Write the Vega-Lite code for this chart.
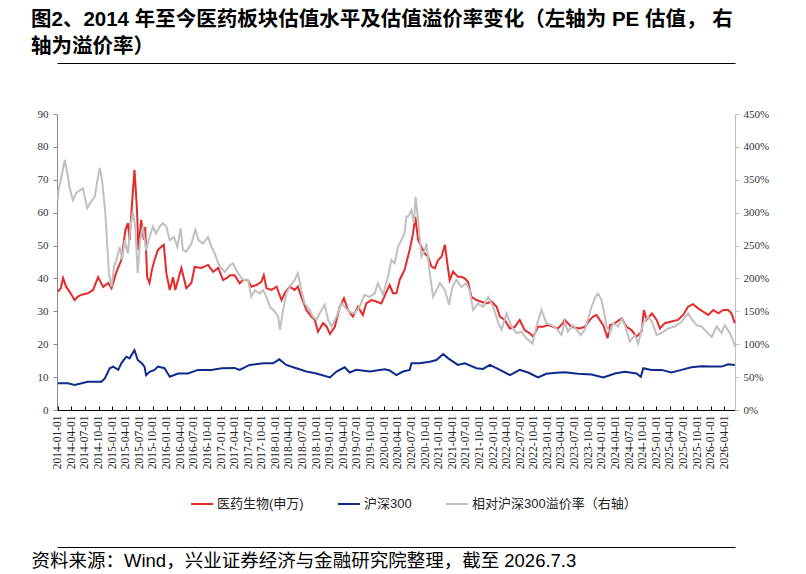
{
  "$schema": "https://vega.github.io/schema/vega-lite/v6.json",
  "width": 678,
  "height": 296,
  "autosize": "none",
  "padding": {"left": 57, "top": 114, "right": 71, "bottom": 164},
  "background": "#ffffff",
  "config": {
    "view": {"stroke": null},
    "font": "'Liberation Sans', 'Noto Sans CJK SC'",
    "axis": {"grid": false}
  },
  "title": {
    "text": ["图2、2014 年至今医药板块估值水平及估值溢价率变化（左轴为 PE 估值， 右", "轴为溢价率）"],
    "anchor": "start",
    "frame": "group",
    "dx": -26,
    "offset": 6,
    "font": "'Liberation Sans', 'Noto Sans CJK SC'",
    "fontSize": 20.5,
    "fontWeight": "bold",
    "lineHeight": 27,
    "color": "#000000"
  },
  "datasets": {
    "pe_yiyao": [
      {"d": "2014-01-01", "v": 36.0}, {"d": "2014-01-20", "v": 37.0}, {"d": "2014-02-05", "v": 40.1},
      {"d": "2014-02-25", "v": 37.5}, {"d": "2014-03-20", "v": 36.0}, {"d": "2014-04-23", "v": 33.4},
      {"d": "2014-05-15", "v": 34.5}, {"d": "2014-06-07", "v": 35.0}, {"d": "2014-07-21", "v": 35.5},
      {"d": "2014-08-25", "v": 36.5}, {"d": "2014-09-28", "v": 40.4}, {"d": "2014-11-01", "v": 37.4},
      {"d": "2014-12-05", "v": 38.6}, {"d": "2014-12-27", "v": 37.0}, {"d": "2015-01-29", "v": 42.0},
      {"d": "2015-03-03", "v": 45.6}, {"d": "2015-03-30", "v": 54.7}, {"d": "2015-04-16", "v": 56.8},
      {"d": "2015-04-27", "v": 51.7}, {"d": "2015-05-12", "v": 61.7}, {"d": "2015-05-30", "v": 73.0},
      {"d": "2015-06-15", "v": 61.7}, {"d": "2015-06-26", "v": 48.6}, {"d": "2015-07-14", "v": 57.8},
      {"d": "2015-08-01", "v": 51.7}, {"d": "2015-08-10", "v": 55.6}, {"d": "2015-08-23", "v": 40.4},
      {"d": "2015-09-08", "v": 38.6}, {"d": "2015-09-24", "v": 42.6}, {"d": "2015-10-12", "v": 45.6},
      {"d": "2015-11-03", "v": 48.6}, {"d": "2015-11-25", "v": 49.6}, {"d": "2015-12-13", "v": 50.2},
      {"d": "2015-12-30", "v": 41.6}, {"d": "2016-01-22", "v": 36.5}, {"d": "2016-02-13", "v": 40.4},
      {"d": "2016-02-28", "v": 36.5}, {"d": "2016-04-09", "v": 43.2}, {"d": "2016-05-12", "v": 37.0},
      {"d": "2016-06-15", "v": 38.6}, {"d": "2016-07-07", "v": 43.5}, {"d": "2016-08-21", "v": 43.2},
      {"d": "2016-10-05", "v": 44.1}, {"d": "2016-11-08", "v": 42.0}, {"d": "2016-12-12", "v": 43.2},
      {"d": "2017-01-14", "v": 39.5}, {"d": "2017-02-17", "v": 40.4}, {"d": "2017-02-28", "v": 41.0},
      {"d": "2017-04-01", "v": 41.0}, {"d": "2017-05-05", "v": 38.5}, {"d": "2017-05-27", "v": 39.5},
      {"d": "2017-06-30", "v": 39.5}, {"d": "2017-07-22", "v": 37.5}, {"d": "2017-08-25", "v": 38.0},
      {"d": "2017-09-28", "v": 39.0}, {"d": "2017-10-14", "v": 41.0}, {"d": "2017-11-01", "v": 37.0},
      {"d": "2017-12-05", "v": 36.5}, {"d": "2018-01-08", "v": 37.5}, {"d": "2018-02-10", "v": 33.4},
      {"d": "2018-03-03", "v": 35.5}, {"d": "2018-04-06", "v": 37.5}, {"d": "2018-05-09", "v": 36.5},
      {"d": "2018-05-31", "v": 37.5}, {"d": "2018-06-23", "v": 34.4}, {"d": "2018-07-27", "v": 30.4},
      {"d": "2018-08-29", "v": 28.4}, {"d": "2018-09-21", "v": 27.4}, {"d": "2018-10-13", "v": 23.8},
      {"d": "2018-11-16", "v": 26.4}, {"d": "2018-12-09", "v": 25.4}, {"d": "2019-01-01", "v": 23.1},
      {"d": "2019-02-03", "v": 25.3}, {"d": "2019-03-08", "v": 31.4}, {"d": "2019-04-05", "v": 34.0},
      {"d": "2019-05-02", "v": 30.4}, {"d": "2019-06-04", "v": 28.4}, {"d": "2019-07-08", "v": 31.4},
      {"d": "2019-08-10", "v": 28.9}, {"d": "2019-09-02", "v": 32.4}, {"d": "2019-10-07", "v": 33.4},
      {"d": "2019-11-08", "v": 33.0}, {"d": "2019-12-12", "v": 32.4}, {"d": "2020-01-16", "v": 36.0},
      {"d": "2020-02-06", "v": 38.0}, {"d": "2020-02-28", "v": 35.5}, {"d": "2020-03-22", "v": 35.5},
      {"d": "2020-04-14", "v": 39.7}, {"d": "2020-05-16", "v": 42.6}, {"d": "2020-06-20", "v": 48.8},
      {"d": "2020-07-12", "v": 53.7}, {"d": "2020-07-27", "v": 58.8}, {"d": "2020-08-15", "v": 51.7},
      {"d": "2020-09-06", "v": 49.6}, {"d": "2020-09-29", "v": 47.6}, {"d": "2020-10-21", "v": 46.6},
      {"d": "2020-11-13", "v": 43.6}, {"d": "2020-12-05", "v": 43.1}, {"d": "2020-12-27", "v": 45.6},
      {"d": "2021-01-19", "v": 46.6}, {"d": "2021-02-11", "v": 50.2}, {"d": "2021-03-05", "v": 42.6},
      {"d": "2021-03-15", "v": 39.5}, {"d": "2021-04-07", "v": 42.1}, {"d": "2021-05-09", "v": 40.5},
      {"d": "2021-06-01", "v": 40.5}, {"d": "2021-06-24", "v": 40.0}, {"d": "2021-07-16", "v": 39.0},
      {"d": "2021-08-08", "v": 34.4}, {"d": "2021-09-11", "v": 33.4}, {"d": "2021-10-14", "v": 32.9},
      {"d": "2021-11-17", "v": 32.4}, {"d": "2021-12-21", "v": 33.0}, {"d": "2022-01-24", "v": 31.4},
      {"d": "2022-02-15", "v": 28.4}, {"d": "2022-03-20", "v": 27.4}, {"d": "2022-04-23", "v": 24.8},
      {"d": "2022-05-26", "v": 25.3}, {"d": "2022-06-28", "v": 27.4}, {"d": "2022-07-31", "v": 24.3},
      {"d": "2022-09-04", "v": 23.3}, {"d": "2022-09-26", "v": 22.3}, {"d": "2022-10-29", "v": 25.3},
      {"d": "2022-12-01", "v": 25.3}, {"d": "2023-01-05", "v": 25.8}, {"d": "2023-02-07", "v": 25.3},
      {"d": "2023-03-12", "v": 24.8}, {"d": "2023-04-14", "v": 26.4}, {"d": "2023-04-26", "v": 27.4},
      {"d": "2023-06-09", "v": 25.3}, {"d": "2023-08-04", "v": 24.8}, {"d": "2023-09-08", "v": 25.3},
      {"d": "2023-10-12", "v": 27.4}, {"d": "2023-11-03", "v": 28.4}, {"d": "2023-11-25", "v": 28.9},
      {"d": "2023-12-17", "v": 27.4}, {"d": "2024-01-10", "v": 25.8}, {"d": "2024-02-08", "v": 21.8},
      {"d": "2024-02-24", "v": 25.8}, {"d": "2024-03-28", "v": 26.4}, {"d": "2024-05-12", "v": 27.9},
      {"d": "2024-06-14", "v": 25.3}, {"d": "2024-07-17", "v": 24.3}, {"d": "2024-08-20", "v": 22.3},
      {"d": "2024-09-23", "v": 23.8}, {"d": "2024-10-08", "v": 30.4}, {"d": "2024-10-26", "v": 27.4},
      {"d": "2024-12-02", "v": 29.4}, {"d": "2025-01-02", "v": 27.4}, {"d": "2025-01-24", "v": 24.8},
      {"d": "2025-02-26", "v": 26.4}, {"d": "2025-04-11", "v": 26.9}, {"d": "2025-05-25", "v": 27.4},
      {"d": "2025-06-29", "v": 28.9}, {"d": "2025-08-01", "v": 31.4}, {"d": "2025-09-03", "v": 32.2},
      {"d": "2025-10-07", "v": 30.9}, {"d": "2025-11-10", "v": 29.9}, {"d": "2025-12-14", "v": 28.9},
      {"d": "2026-01-17", "v": 30.4}, {"d": "2026-02-20", "v": 29.4}, {"d": "2026-03-25", "v": 30.4},
      {"d": "2026-04-27", "v": 30.4}, {"d": "2026-05-19", "v": 29.4}, {"d": "2026-06-11", "v": 26.4}
    ],
    "pe_hs300": [
      {"d": "2014-01-01", "v": 8.1}, {"d": "2014-03-10", "v": 8.1}, {"d": "2014-04-23", "v": 7.6},
      {"d": "2014-07-21", "v": 8.6}, {"d": "2014-10-20", "v": 8.6}, {"d": "2014-11-12", "v": 9.6},
      {"d": "2014-12-15", "v": 12.7}, {"d": "2015-01-07", "v": 13.2}, {"d": "2015-02-10", "v": 12.2},
      {"d": "2015-03-03", "v": 14.2}, {"d": "2015-04-05", "v": 16.2}, {"d": "2015-04-27", "v": 15.7},
      {"d": "2015-05-30", "v": 18.2}, {"d": "2015-06-21", "v": 15.2}, {"d": "2015-07-18", "v": 14.2},
      {"d": "2015-08-05", "v": 13.2}, {"d": "2015-08-16", "v": 10.6}, {"d": "2015-09-08", "v": 11.6},
      {"d": "2015-10-12", "v": 12.2}, {"d": "2015-11-03", "v": 13.2}, {"d": "2015-12-18", "v": 12.7},
      {"d": "2016-01-22", "v": 10.1}, {"d": "2016-03-17", "v": 11.1}, {"d": "2016-05-23", "v": 11.1},
      {"d": "2016-07-30", "v": 12.2}, {"d": "2016-10-28", "v": 12.2}, {"d": "2017-01-04", "v": 12.7},
      {"d": "2017-04-01", "v": 12.8}, {"d": "2017-05-05", "v": 12.2}, {"d": "2017-07-11", "v": 13.7},
      {"d": "2017-10-10", "v": 14.2}, {"d": "2017-12-16", "v": 14.2}, {"d": "2018-01-26", "v": 15.4},
      {"d": "2018-03-14", "v": 13.7}, {"d": "2018-05-20", "v": 12.7}, {"d": "2018-07-27", "v": 11.7},
      {"d": "2018-10-02", "v": 11.1}, {"d": "2019-01-01", "v": 9.9}, {"d": "2019-02-14", "v": 11.7},
      {"d": "2019-04-10", "v": 13.0}, {"d": "2019-05-13", "v": 11.4}, {"d": "2019-06-27", "v": 12.2},
      {"d": "2019-09-25", "v": 11.7}, {"d": "2020-01-04", "v": 12.4}, {"d": "2020-02-06", "v": 12.0},
      {"d": "2020-03-22", "v": 10.6}, {"d": "2020-05-05", "v": 11.7}, {"d": "2020-06-20", "v": 12.2},
      {"d": "2020-07-01", "v": 14.2}, {"d": "2020-08-26", "v": 14.2}, {"d": "2020-11-01", "v": 14.7},
      {"d": "2020-12-16", "v": 15.2}, {"d": "2021-01-30", "v": 17.0}, {"d": "2021-03-05", "v": 15.7},
      {"d": "2021-05-09", "v": 13.7}, {"d": "2021-06-24", "v": 14.2}, {"d": "2021-09-11", "v": 12.7},
      {"d": "2021-10-25", "v": 12.5}, {"d": "2021-12-09", "v": 13.7}, {"d": "2022-02-15", "v": 12.2},
      {"d": "2022-04-23", "v": 10.6}, {"d": "2022-06-28", "v": 12.2}, {"d": "2022-08-23", "v": 11.4},
      {"d": "2022-10-29", "v": 9.9}, {"d": "2022-12-24", "v": 11.0}, {"d": "2023-03-01", "v": 11.3},
      {"d": "2023-04-26", "v": 11.5}, {"d": "2023-07-24", "v": 11.0}, {"d": "2023-10-23", "v": 10.8},
      {"d": "2024-01-10", "v": 9.9}, {"d": "2024-03-28", "v": 11.1}, {"d": "2024-06-03", "v": 11.6},
      {"d": "2024-08-20", "v": 11.1}, {"d": "2024-09-18", "v": 10.1}, {"d": "2024-10-04", "v": 12.7},
      {"d": "2024-11-28", "v": 12.2}, {"d": "2025-02-04", "v": 12.2}, {"d": "2025-04-11", "v": 11.4},
      {"d": "2025-06-18", "v": 12.2}, {"d": "2025-08-23", "v": 13.0}, {"d": "2025-10-30", "v": 13.3},
      {"d": "2026-01-07", "v": 13.2}, {"d": "2026-03-14", "v": 13.2}, {"d": "2026-04-27", "v": 13.9},
      {"d": "2026-06-11", "v": 13.7}
    ],
    "premium": [
      {"d": "2014-01-01", "v": 3.19}, {"d": "2014-01-05", "v": 3.34}, {"d": "2014-01-25", "v": 3.55},
      {"d": "2014-02-16", "v": 3.80}, {"d": "2014-03-05", "v": 3.60}, {"d": "2014-03-20", "v": 3.39},
      {"d": "2014-04-12", "v": 3.19}, {"d": "2014-05-04", "v": 3.30}, {"d": "2014-05-27", "v": 3.34},
      {"d": "2014-06-18", "v": 3.37}, {"d": "2014-07-17", "v": 3.07}, {"d": "2014-08-13", "v": 3.17},
      {"d": "2014-09-05", "v": 3.24}, {"d": "2014-09-28", "v": 3.55}, {"d": "2014-10-09", "v": 3.68},
      {"d": "2014-10-24", "v": 3.50}, {"d": "2014-11-15", "v": 3.00}, {"d": "2014-11-29", "v": 2.48},
      {"d": "2014-12-10", "v": 2.08}, {"d": "2014-12-27", "v": 1.87}, {"d": "2015-01-13", "v": 2.18},
      {"d": "2015-01-29", "v": 2.28}, {"d": "2015-02-20", "v": 2.48}, {"d": "2015-03-09", "v": 2.28},
      {"d": "2015-03-25", "v": 2.58}, {"d": "2015-04-16", "v": 2.38}, {"d": "2015-05-03", "v": 2.79},
      {"d": "2015-05-19", "v": 3.01}, {"d": "2015-06-04", "v": 2.79}, {"d": "2015-06-21", "v": 2.08},
      {"d": "2015-07-07", "v": 2.58}, {"d": "2015-07-25", "v": 2.79}, {"d": "2015-08-16", "v": 2.43},
      {"d": "2015-09-08", "v": 2.63}, {"d": "2015-10-01", "v": 2.79}, {"d": "2015-10-23", "v": 2.68},
      {"d": "2015-11-15", "v": 2.79}, {"d": "2015-12-07", "v": 2.84}, {"d": "2015-12-30", "v": 2.79},
      {"d": "2016-01-22", "v": 2.58}, {"d": "2016-02-19", "v": 2.63}, {"d": "2016-03-13", "v": 2.48},
      {"d": "2016-04-04", "v": 2.76}, {"d": "2016-04-19", "v": 2.43}, {"d": "2016-05-12", "v": 2.41},
      {"d": "2016-06-15", "v": 2.53}, {"d": "2016-07-12", "v": 2.74}, {"d": "2016-08-03", "v": 2.58},
      {"d": "2016-09-01", "v": 2.53}, {"d": "2016-10-05", "v": 2.63}, {"d": "2016-10-28", "v": 2.48},
      {"d": "2016-11-19", "v": 2.38}, {"d": "2016-12-12", "v": 2.23}, {"d": "2017-01-04", "v": 2.15},
      {"d": "2017-01-26", "v": 2.10}, {"d": "2017-02-28", "v": 2.20}, {"d": "2017-03-21", "v": 2.23},
      {"d": "2017-04-24", "v": 2.08}, {"d": "2017-05-27", "v": 1.98}, {"d": "2017-06-30", "v": 1.98},
      {"d": "2017-07-22", "v": 1.72}, {"d": "2017-08-14", "v": 1.82}, {"d": "2017-09-17", "v": 1.77},
      {"d": "2017-10-10", "v": 1.82}, {"d": "2017-11-01", "v": 1.72}, {"d": "2017-11-24", "v": 1.57},
      {"d": "2017-12-28", "v": 1.49}, {"d": "2018-01-19", "v": 1.42}, {"d": "2018-01-30", "v": 1.22},
      {"d": "2018-02-17", "v": 1.47}, {"d": "2018-03-14", "v": 1.77}, {"d": "2018-04-06", "v": 1.87},
      {"d": "2018-05-09", "v": 1.98}, {"d": "2018-05-31", "v": 2.08}, {"d": "2018-06-23", "v": 1.82},
      {"d": "2018-07-15", "v": 1.62}, {"d": "2018-08-18", "v": 1.52}, {"d": "2018-09-09", "v": 1.42},
      {"d": "2018-10-02", "v": 1.37}, {"d": "2018-10-24", "v": 1.47}, {"d": "2018-11-27", "v": 1.60},
      {"d": "2018-12-20", "v": 1.37}, {"d": "2019-01-12", "v": 1.27}, {"d": "2019-02-14", "v": 1.42},
      {"d": "2019-03-19", "v": 1.62}, {"d": "2019-04-10", "v": 1.57}, {"d": "2019-05-13", "v": 1.49},
      {"d": "2019-06-16", "v": 1.47}, {"d": "2019-07-19", "v": 1.57}, {"d": "2019-08-21", "v": 1.75},
      {"d": "2019-09-25", "v": 1.72}, {"d": "2019-10-28", "v": 1.77}, {"d": "2019-11-19", "v": 1.93},
      {"d": "2019-12-23", "v": 1.75}, {"d": "2020-01-26", "v": 2.03}, {"d": "2020-02-17", "v": 2.28},
      {"d": "2020-03-11", "v": 2.23}, {"d": "2020-04-02", "v": 2.48}, {"d": "2020-04-25", "v": 2.58},
      {"d": "2020-05-16", "v": 2.69}, {"d": "2020-05-28", "v": 2.94}, {"d": "2020-06-09", "v": 2.94},
      {"d": "2020-07-01", "v": 3.04}, {"d": "2020-07-17", "v": 2.84}, {"d": "2020-07-29", "v": 3.24},
      {"d": "2020-08-15", "v": 2.89}, {"d": "2020-09-06", "v": 2.33}, {"d": "2020-09-29", "v": 2.43},
      {"d": "2020-10-10", "v": 2.53}, {"d": "2020-11-01", "v": 2.08}, {"d": "2020-11-24", "v": 1.72},
      {"d": "2020-12-16", "v": 1.82}, {"d": "2021-01-08", "v": 1.93}, {"d": "2021-02-11", "v": 1.82},
      {"d": "2021-03-11", "v": 1.60}, {"d": "2021-04-02", "v": 1.87}, {"d": "2021-04-28", "v": 1.98},
      {"d": "2021-06-01", "v": 1.87}, {"d": "2021-07-05", "v": 1.93}, {"d": "2021-07-27", "v": 1.82},
      {"d": "2021-08-19", "v": 1.52}, {"d": "2021-09-22", "v": 1.62}, {"d": "2021-10-25", "v": 1.57},
      {"d": "2021-11-28", "v": 1.72}, {"d": "2022-01-01", "v": 1.57}, {"d": "2022-02-04", "v": 1.32},
      {"d": "2022-02-26", "v": 1.22}, {"d": "2022-03-31", "v": 1.47}, {"d": "2022-05-04", "v": 1.27},
      {"d": "2022-06-06", "v": 1.17}, {"d": "2022-07-09", "v": 1.19}, {"d": "2022-08-11", "v": 1.09},
      {"d": "2022-09-22", "v": 1.01}, {"d": "2022-10-18", "v": 1.27}, {"d": "2022-11-21", "v": 1.52},
      {"d": "2022-12-24", "v": 1.32}, {"d": "2023-01-27", "v": 1.29}, {"d": "2023-03-01", "v": 1.24},
      {"d": "2023-04-04", "v": 1.14}, {"d": "2023-04-26", "v": 1.34}, {"d": "2023-05-17", "v": 1.19},
      {"d": "2023-06-20", "v": 1.29}, {"d": "2023-08-11", "v": 1.14}, {"d": "2023-09-08", "v": 1.22},
      {"d": "2023-10-01", "v": 1.39}, {"d": "2023-10-23", "v": 1.57}, {"d": "2023-11-19", "v": 1.72},
      {"d": "2023-12-06", "v": 1.77}, {"d": "2023-12-29", "v": 1.67}, {"d": "2024-01-21", "v": 1.42},
      {"d": "2024-02-01", "v": 1.27}, {"d": "2024-02-24", "v": 1.17}, {"d": "2024-03-17", "v": 1.32},
      {"d": "2024-04-19", "v": 1.27}, {"d": "2024-05-12", "v": 1.39}, {"d": "2024-06-03", "v": 1.29},
      {"d": "2024-07-06", "v": 1.04}, {"d": "2024-08-09", "v": 1.14}, {"d": "2024-08-31", "v": 1.01},
      {"d": "2024-10-04", "v": 1.32}, {"d": "2024-11-06", "v": 1.42}, {"d": "2024-12-02", "v": 1.34},
      {"d": "2025-01-02", "v": 1.14}, {"d": "2025-02-04", "v": 1.17}, {"d": "2025-03-20", "v": 1.24},
      {"d": "2025-05-03", "v": 1.27}, {"d": "2025-06-18", "v": 1.34}, {"d": "2025-08-01", "v": 1.47},
      {"d": "2025-08-23", "v": 1.39}, {"d": "2025-09-26", "v": 1.29}, {"d": "2025-10-30", "v": 1.27},
      {"d": "2025-12-03", "v": 1.19}, {"d": "2026-01-07", "v": 1.11}, {"d": "2026-02-09", "v": 1.27},
      {"d": "2026-03-14", "v": 1.17}, {"d": "2026-04-04", "v": 1.29}, {"d": "2026-05-08", "v": 1.17},
      {"d": "2026-05-30", "v": 1.06}, {"d": "2026-06-11", "v": 0.96}
    ]
  },
  "layer": [
    {
      "data": {"name": "pe_yiyao"},
      "mark": {"type": "line", "strokeWidth": 2},
      "encoding": {
        "x": {
          "field": "d",
          "type": "temporal",
          "scale": {"domain": [{"year": 2013, "month": 12, "date": 26}, {"year": 2026, "month": 6, "date": 12}]},
          "axis": {
            "orient": "bottom",
            "title": null,
            "format": "%Y-%m-%d",
            "tickCount": {"interval": "month", "step": 3},
            "labelAngle": 270,
            "labelOverlap": false,
            "labelFont": "'Liberation Serif', 'DejaVu Serif', serif",
            "labelFontSize": 11.5,
            "labelColor": "#222222",
            "labelPadding": 9,
            "tickSize": -4,
            "tickColor": "#000000",
            "domainColor": "#000000",
            "domainWidth": 1.2
          }
        },
        "y": {
          "field": "v",
          "type": "quantitative",
          "scale": {"domain": [0, 90]},
          "axis": {
            "orient": "left",
            "title": null,
            "values": [0, 10, 20, 30, 40, 50, 60, 70, 80, 90],
            "labelFont": "'Liberation Serif', 'DejaVu Serif', serif",
            "labelFontSize": 11,
            "labelColor": "#333333",
            "labelPadding": 5,
            "tickSize": 4,
            "tickColor": "#8c8c8c",
            "domainColor": "#8c8c8c"
          }
        },
        "color": {
          "datum": "医药生物(申万)",
          "scale": {
            "domain": ["医药生物(申万)", "沪深300", "相对沪深300溢价率（右轴）"],
            "range": ["#e62a2a", "#0d2b8c", "#c0c0c0"]
          },
          "legend": {
            "title": null,
            "orient": "none",
            "direction": "horizontal",
            "legendX": 133,
            "legendY": 378,
            "symbolType": "stroke",
            "symbolSize": 484,
            "symbolStrokeWidth": 2,
            "labelFont": "'Liberation Sans', 'Noto Sans CJK SC'",
            "labelFontSize": 13,
            "labelColor": "#222222",
            "labelLimit": 0,
            "labelOffset": 3,
            "columnPadding": 30
          }
        }
      }
    },
    {
      "data": {"name": "pe_hs300"},
      "mark": {"type": "line", "strokeWidth": 2},
      "encoding": {
        "x": {
          "field": "d",
          "type": "temporal",
          "scale": {"domain": [{"year": 2013, "month": 12, "date": 26}, {"year": 2026, "month": 6, "date": 12}]},
          "axis": {
            "orient": "bottom",
            "offset": 137,
            "labels": false,
            "ticks": false,
            "domainColor": "#000000",
            "domainWidth": 1.2,
            "title": "资料来源：Wind，兴业证券经济与金融研究院整理，截至 2026.7.3",
            "titleX": -26,
            "titleY": 13,
            "titleAlign": "left",
            "titleAnchor": "start",
            "titleBaseline": "middle",
            "titleFont": "'Liberation Sans', 'Noto Sans CJK SC'",
            "titleFontSize": 18.5,
            "titleFontWeight": "normal",
            "titleColor": "#000000"
          }
        },
        "y": {
          "field": "v",
          "type": "quantitative",
          "scale": {"domain": [0, 90]},
          "axis": null
        },
        "color": {
          "datum": "沪深300",
          "scale": {
            "domain": ["医药生物(申万)", "沪深300", "相对沪深300溢价率（右轴）"],
            "range": ["#e62a2a", "#0d2b8c", "#c0c0c0"]
          }
        }
      }
    },
    {
      "data": {"name": "premium"},
      "mark": {"type": "line", "strokeWidth": 2},
      "encoding": {
        "x": {
          "field": "d",
          "type": "temporal",
          "scale": {"domain": [{"year": 2013, "month": 12, "date": 26}, {"year": 2026, "month": 6, "date": 12}]},
          "axis": {
            "orient": "top",
            "offset": 51,
            "labels": false,
            "ticks": false,
            "title": null,
            "domainColor": "#000000",
            "domainWidth": 1.2
          }
        },
        "y": {
          "field": "v",
          "type": "quantitative",
          "scale": {"domain": [0, 4.5]},
          "axis": {
            "orient": "right",
            "title": null,
            "format": ".0%",
            "values": [0, 0.5, 1, 1.5, 2, 2.5, 3, 3.5, 4, 4.5],
            "labelFont": "'Liberation Serif', 'DejaVu Serif', serif",
            "labelFontSize": 11,
            "labelColor": "#333333",
            "labelPadding": 4,
            "tickSize": 4,
            "tickColor": "#bfbfbf",
            "domainColor": "#bfbfbf"
          }
        },
        "color": {
          "datum": "相对沪深300溢价率（右轴）",
          "scale": {
            "domain": ["医药生物(申万)", "沪深300", "相对沪深300溢价率（右轴）"],
            "range": ["#e62a2a", "#0d2b8c", "#c0c0c0"]
          }
        }
      }
    }
  ],
  "resolve": {"scale": {"x": "independent", "y": "independent"}}
}
